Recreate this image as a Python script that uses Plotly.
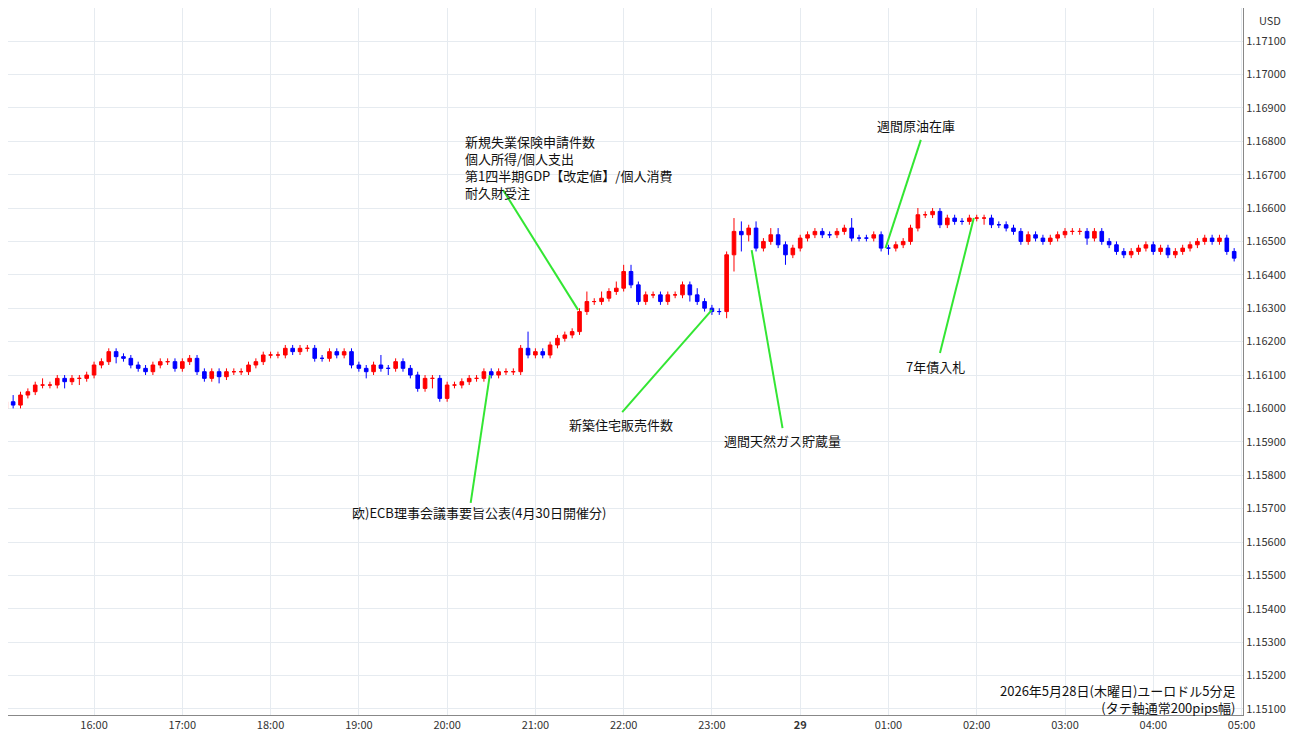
import pandas as pd
import plotly.graph_objects as go

# 5-minute closes, EUR/USD, 2026-05-28 15:00 -> 05-29 04:55 (one row per hour)
closes = [
    1.1602, 1.1601, 1.1604, 1.1605, 1.1607, 1.1607, 1.1607, 1.1609, 1.1608, 1.1609, 1.1609, 1.1610,
    1.1613, 1.1614, 1.1617, 1.16155, 1.1615, 1.1613, 1.1612, 1.1611, 1.1613, 1.1614, 1.1614, 1.1612,
    1.1614, 1.1615, 1.1611, 1.1609, 1.1611, 1.16095, 1.1611, 1.1611, 1.1611, 1.1613, 1.1614, 1.1616,
    1.1616, 1.1616, 1.1618, 1.1617, 1.1618, 1.1618, 1.1615, 1.1615, 1.1617, 1.1616, 1.1617, 1.1613,
    1.1612, 1.1611, 1.1613, 1.1612, 1.1612, 1.1614, 1.1612, 1.1610, 1.1606, 1.1609, 1.1609, 1.1603,
    1.1607, 1.1607, 1.1608, 1.1609, 1.1609, 1.1611, 1.1610, 1.1611, 1.1611, 1.1611, 1.1618, 1.1616,
    1.1617, 1.1616, 1.1619, 1.1621, 1.1622, 1.1623, 1.1629, 1.1632, 1.1632, 1.1633, 1.1635, 1.1636,
    1.1641, 1.1637, 1.1632, 1.1634, 1.1634, 1.1632, 1.1634, 1.1634, 1.1637, 1.1634, 1.1632, 1.1630,
    1.1629, 1.1629, 1.1646, 1.1653, 1.1652, 1.1654, 1.1648, 1.1650, 1.1652, 1.1649, 1.1646, 1.1648,
    1.1651, 1.1652, 1.1653, 1.1652, 1.1652, 1.1653, 1.1654, 1.1651, 1.1651, 1.1651, 1.1652, 1.1648,
    1.1648, 1.1649, 1.1650, 1.1654, 1.1658, 1.1658, 1.1659, 1.1655, 1.1657, 1.1656, 1.1656, 1.1657,
    1.1657, 1.1657, 1.1655, 1.1655, 1.1654, 1.1653, 1.1650, 1.1652, 1.1651, 1.1650, 1.1651, 1.1652,
    1.1653, 1.1653, 1.1653, 1.1651, 1.1653, 1.1650, 1.1649, 1.1647, 1.1646, 1.1647, 1.1648, 1.1649,
    1.1647, 1.1648, 1.1646, 1.1647, 1.1648, 1.1649, 1.1650, 1.1651, 1.1650, 1.1651, 1.1647, 1.1645,
]
first_open = 1.1600

# wick lengths in pips above / below the body
wick_up = [
    1, 2, 1, 1, 1, 2, 1, 1, 1, 1, 1, 1,
    1, 1, 1, 1, 1, 1, 1, 1, 1, 1, 1, 1,
    1, 1, 1, 1, 1, 1, 1, 1, 1, 1, 1, 1,
    1, 1, 1, 1, 1, 1, 1, 1, 1, 1, 1, 1,
    1, 1, 1, 3, 1, 1, 1, 1, 1, 1, 1, 1,
    1, 1, 1, 1, 1, 1, 1, 1, 1, 1, 1, 5,
    1, 1, 1, 1, 1, 1, 1, 3, 1, 2, 1, 2,
    2, 2, 1, 1, 1, 1, 1, 1, 1, 1, 2, 1,
    1, 1, 1, 4, 3, 1, 2, 1, 2, 2, 1, 1,
    1, 1, 1, 1, 1, 1, 1, 3, 1, 1, 1, 1,
    1, 1, 1, 1, 2, 1, 1, 1, 1, 1, 1, 1,
    1, 1, 1, 1, 1, 1, 1, 1, 1, 1, 1, 1,
    1, 1, 1, 1, 1, 1, 1, 1, 1, 1, 1, 1,
    1, 1, 1, 1, 1, 1, 1, 1, 1, 1, 1, 1,
]
wick_dn = [
    1, 1, 1, 1, 1, 1, 1, 1, 2, 1, 2, 1,
    1, 1, 1, 2, 1, 1, 1, 1, 1, 1, 1, 1,
    1, 1, 1, 1, 1, 2, 1, 1, 1, 1, 1, 1,
    1, 1, 1, 1, 1, 1, 1, 1, 1, 1, 1, 1,
    1, 2, 1, 1, 2, 1, 1, 1, 1, 1, 3, 1,
    1, 1, 1, 1, 1, 1, 1, 1, 1, 1, 1, 1,
    1, 1, 1, 1, 1, 1, 1, 1, 1, 1, 1, 1,
    1, 1, 1, 1, 1, 1, 1, 1, 1, 2, 1, 1,
    1, 1, 2, 5, 5, 2, 1, 1, 1, 1, 3, 1,
    1, 1, 1, 1, 1, 1, 1, 1, 1, 1, 1, 1,
    2, 1, 1, 1, 1, 1, 1, 1, 1, 1, 1, 1,
    1, 2, 1, 1, 1, 1, 1, 1, 1, 1, 1, 1,
    1, 1, 1, 2, 1, 1, 1, 1, 1, 1, 1, 1,
    1, 1, 1, 1, 1, 1, 1, 1, 1, 1, 1, 1,
]

times = pd.date_range("2026-05-28 15:00", periods=len(closes), freq="5min")
opens = [first_open] + closes[:-1]
highs = [max(o, c) + u * 0.0001 for o, c, u in zip(opens, closes, wick_up)]
lows = [min(o, c) - d * 0.0001 for o, c, d in zip(opens, closes, wick_dn)]

tick_times = pd.date_range("2026-05-28 16:00", "2026-05-29 05:00", freq="h")
tick_text = ["<b>29</b>" if t.hour == 0 else t.strftime("%H:%M") for t in tick_times]
price_ticks = [1.151 + i * 0.001 for i in range(21)]

fig = go.Figure(go.Candlestick(
    x=times, open=opens, high=highs, low=lows, close=closes,
    increasing=dict(line=dict(color="#ff0000", width=1), fillcolor="#ff0000"),
    decreasing=dict(line=dict(color="#0000ff", width=1), fillcolor="#0000ff"),
    whiskerwidth=0, hoverinfo="skip",
))

green = "#33e633"
# connector lines: (text end, candle end)
events = [
    ("2026-05-28 20:38", 1.16654, "2026-05-28 21:29", 1.16295),
    ("2026-05-28 20:16", 1.15717, "2026-05-28 20:29", 1.16100),
    ("2026-05-28 21:59", 1.15989, "2026-05-28 23:00", 1.16295),
    ("2026-05-28 23:48", 1.15941, "2026-05-28 23:27", 1.16474),
    ("2026-05-29 01:22", 1.16804, "2026-05-29 00:58", 1.16480),
    ("2026-05-29 01:35", 1.16166, "2026-05-29 01:58", 1.16570),
]
for x0, y0, x1, y1 in events:
    fig.add_shape(type="line", x0=x0, y0=y0, x1=x1, y1=y1,
                  line=dict(color=green, width=2))

labels = [
    ("2026-05-28 20:11", 1.16835, "新規失業保険申請件数<br>個人所得/個人支出<br>第1四半期GDP【改定値】/個人消費<br>耐久財受注", "left", "top"),
    ("2026-05-28 20:22", 1.15687, "欧)ECB理事会議事要旨公表(4月30日開催分)", "center", "middle"),
    ("2026-05-28 21:58", 1.15953, "新築住宅販売件数", "center", "middle"),
    ("2026-05-28 23:48", 1.15905, "週間天然ガス貯蔵量", "center", "middle"),
    ("2026-05-29 01:19", 1.16846, "週間原油在庫", "center", "middle"),
    ("2026-05-29 01:32", 1.16127, "7年債入札", "center", "middle"),
]
for x, y, txt, xa, ya in labels:
    fig.add_annotation(x=x, y=y, text=txt, showarrow=False, xanchor=xa, yanchor=ya,
                       align="left", font=dict(size=13, color="#111"))

fig.add_annotation(xref="paper", yref="y", x=0.996, y=1.1513, xanchor="right", yanchor="middle",
                   text="2026年5月28日(木曜日)ユーロドル5分足<br>(タテ軸通常200pips幅)",
                   align="right", showarrow=False, font=dict(size=13, color="#111"))
fig.add_annotation(xref="paper", yref="paper", x=1.0, y=1.0, xanchor="left", yanchor="top",
                   xshift=14, yshift=-2,
                   text="USD", showarrow=False, font=dict(size=11, color="#333"))

fig.update_layout(
    width=1300, height=745,
    margin=dict(l=0, r=65, t=0, b=38),
    paper_bgcolor="white", plot_bgcolor="white",
    showlegend=False,
    font=dict(family="Noto Sans CJK JP, Noto Sans, sans-serif"),
    xaxis=dict(
        range=["2026-05-28 15:01:30", "2026-05-29 05:01"],
        rangeslider=dict(visible=False),
        tickvals=tick_times, ticktext=tick_text,
        showgrid=True, gridcolor="#e6ebf0",
        showline=True, linecolor="#888", ticks="",
        tickfont=dict(size=11, color="#333"),
    ),
    yaxis=dict(
        side="right", range=[1.15082, 1.17199],
        tickvals=price_ticks, tickformat=".5f",
        showgrid=True, gridcolor="#e6ebf0",
        showline=True, linecolor="#888", ticks="",
        tickfont=dict(size=11, color="#333"),
    ),
)

fig.write_html("out.html")
